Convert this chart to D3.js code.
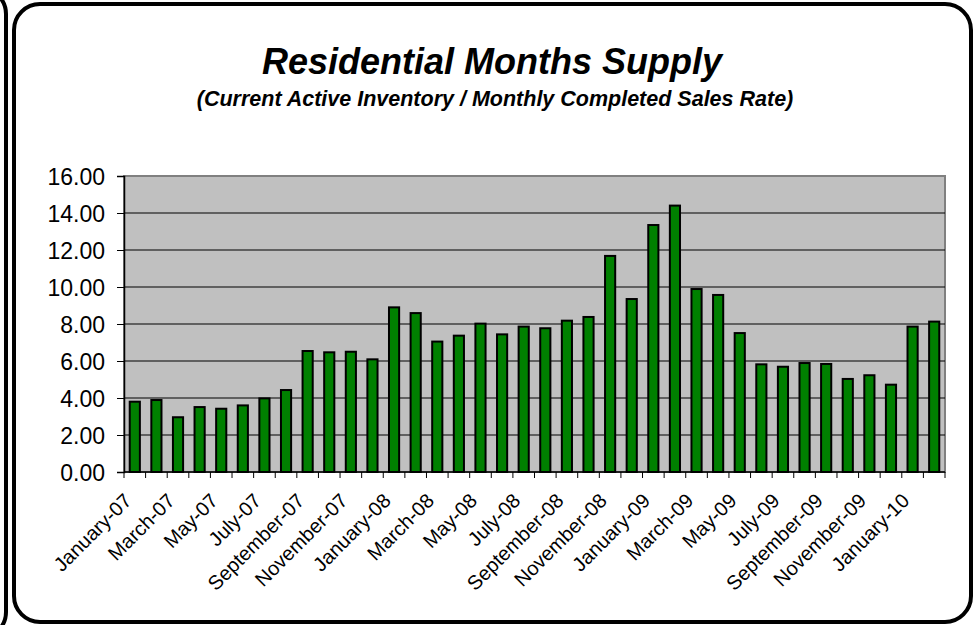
<!DOCTYPE html>
<html>
<head>
<meta charset="utf-8">
<script src="https://cdn.jsdelivr.net/npm/d3@7"></script>
<style>
  body { margin: 0; background: #fff; }
  svg { display: block; font-family: "Liberation Sans", Arial, sans-serif; }
</style>
</head>
<body>
<div id="chart"></div>
<script>
/* chart data */
const monthNames = ["January", "February", "March", "April", "May", "June", "July",
  "August", "September", "October", "November", "December"];
const years = ["07", "08", "09", "10"];
const months = [];
years.forEach(y => monthNames.forEach(m => months.push(m + "-" + y)));
months.length = 38; // January-07 .. February-10

const supply = [3.80, 3.89, 2.96, 3.51, 3.42, 3.60, 3.98, 4.43, 6.54, 6.47, 6.50, 6.09,
  8.90, 8.59, 7.05, 7.37, 8.02, 7.44, 7.86, 7.77, 8.18, 8.38, 11.68, 9.35,
  13.35, 14.40, 9.89, 9.57, 7.51, 5.82, 5.69, 5.89, 5.84, 5.03, 5.23, 4.72,
  7.86, 8.13];

const yTicks = [0, 2, 4, 6, 8, 10, 12, 14, 16];

const W = 978, H = 625;
const margin = {top: 176, right: 33, bottom: 153, left: 124};
const width = W - margin.left - margin.right;
const height = H - margin.top - margin.bottom;
const FONT = "'Liberation Sans', Arial, sans-serif";

const svg = d3.select("#chart").append("svg")
  .attr("width", W)
  .attr("height", H);

/* frames: neighbour box on the left edge and the main rounded box */
svg.append("rect")
  .attr("x", -990).attr("y", -12)
  .attr("width", 996).attr("height", 650)
  .attr("rx", 26).attr("ry", 26)
  .attr("fill", "none").attr("stroke", "#000").attr("stroke-width", 4);

svg.append("rect")
  .attr("x", 14).attr("y", 4)
  .attr("width", 957).attr("height", 618)
  .attr("rx", 26).attr("ry", 26)
  .attr("fill", "none").attr("stroke", "#000").attr("stroke-width", 4);

/* titles */
svg.append("text")
  .attr("x", 492).attr("y", 74)
  .attr("text-anchor", "middle")
  .attr("font-family", FONT)
  .attr("font-size", 36).attr("font-weight", "bold").attr("font-style", "italic")
  .text("Residential Months Supply");

svg.append("text")
  .attr("x", 495).attr("y", 106)
  .attr("text-anchor", "middle")
  .attr("font-family", FONT)
  .attr("font-size", 21.5).attr("font-weight", "bold").attr("font-style", "italic")
  .text("(Current Active Inventory / Monthly Completed Sales Rate)");

const g = svg.append("g")
  .attr("transform", `translate(${margin.left},${margin.top})`);

/* scales */
const xSlot = d3.scaleBand().domain(months).range([0, width]).padding(0);
const xScale = d3.scaleBand().domain(months).range([0, width])
  .paddingInner(0.53).paddingOuter(0.265);
const yScale = d3.scaleLinear().domain([0, 16]).range([height, 0]);

/* plot background */
g.append("rect")
  .attr("width", width).attr("height", height)
  .attr("fill", "#c0c0c0")
  .attr("stroke", "#808080").attr("stroke-width", 2);

/* gridlines */
g.selectAll(".grid")
  .data(yTicks.filter(d => d > 0 && d < 16))
  .join("line")
  .attr("class", "grid")
  .attr("x1", 0).attr("x2", width)
  .attr("y1", d => yScale(d)).attr("y2", d => yScale(d))
  .attr("stroke", "#000").attr("stroke-width", 1);

/* bars */
g.selectAll(".bar")
  .data(supply)
  .join("rect")
  .attr("class", "bar")
  .attr("x", (d, i) => xScale(months[i]))
  .attr("width", xScale.bandwidth())
  .attr("y", d => yScale(d))
  .attr("height", d => height - yScale(d))
  .attr("fill", "#008000")
  .attr("stroke", "#000").attr("stroke-width", 2);

/* y axis */
const yAxis = d3.axisLeft(yScale)
  .tickValues(yTicks)
  .tickFormat(d3.format(".2f"))
  .tickSize(7)
  .tickPadding(12);

g.append("g")
  .attr("class", "axis yAxis")
  .call(yAxis)
  .attr("font-family", FONT)
  .attr("font-size", 23)
  .call(a => a.select(".domain").attr("stroke", "#000").attr("stroke-width", 1.5))
  .call(a => a.selectAll("text").attr("fill", "#000").attr("dy", "0.36em"));

/* x axis baseline and boundary ticks */
g.append("line")
  .attr("x1", 0).attr("x2", width)
  .attr("y1", height).attr("y2", height)
  .attr("stroke", "#000").attr("stroke-width", 1.5);

g.selectAll(".xtick")
  .data(months.concat(["end"]))
  .join("line")
  .attr("class", "xtick")
  .attr("x1", (d, i) => i * xSlot.step())
  .attr("x2", (d, i) => i * xSlot.step())
  .attr("y1", height).attr("y2", height + 6)
  .attr("stroke", "#000").attr("stroke-width", 1);

/* x labels, every other month, rotated */
g.selectAll(".xlabel")
  .data(months.filter((d, i) => i % 2 === 0))
  .join("text")
  .attr("class", "xlabel")
  .attr("text-anchor", "end")
  .attr("font-family", FONT)
  .attr("font-size", 20)
  .attr("transform", d => `translate(${xSlot(d) + xSlot.bandwidth() / 2 - 2},${height + 30}) rotate(-45)`)
  .text(d => d);
</script>
</body>
</html>
